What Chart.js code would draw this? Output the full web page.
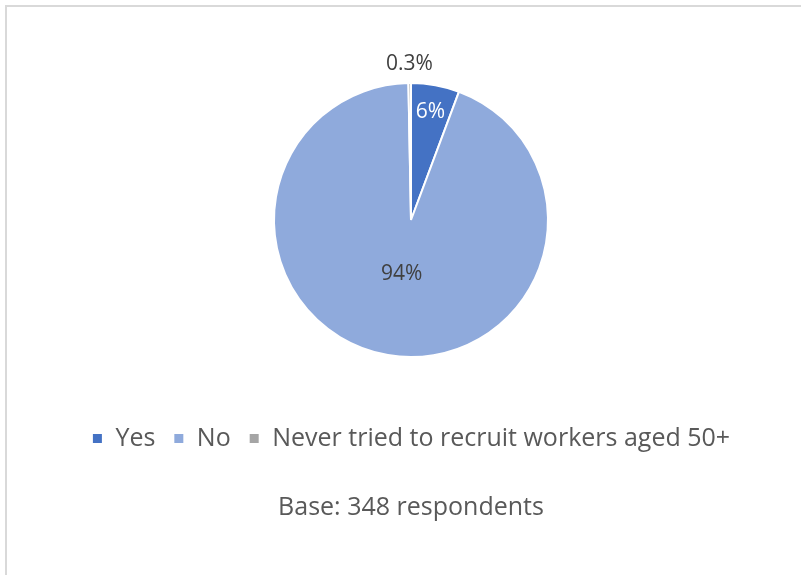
<!DOCTYPE html>
<html>
<head>
<meta charset="utf-8">
<script src="https://cdn.jsdelivr.net/npm/chart.js@4"></script>
<style>
  body { margin: 0; background: #fff; overflow: hidden; }
  #wrap { position: relative; width: 801px; height: 575px; }
  #frame { position: absolute; left: 5px; top: 5px; width: 820px; height: 600px;
           border-top: 2px solid #D9D9D9; border-left: 2px solid #D9D9D9; }
  canvas { position: absolute; left: 0; top: 0; }
</style>
</head>
<body>
<div id="wrap">
  <div id="frame"></div>
  <canvas id="myChart" width="801" height="575"></canvas>
</div>
<script>
const answers = ["Yes", "No", "Never tried to recruit workers aged 50+"];
const shares = [5.7, 94.0, 0.3];
const shareLabels = ["6%", "94%", "0.3%"];
const sliceColors = ["#4472C4", "#8FAADC", "#A5A5A5"];

const FONT = "'Open Sans', 'Liberation Sans', sans-serif";

// where each percentage sits, as a fraction of the radius
const labelRadius = [0.8, 0.4, 1.14];
const labelColor = ["#FFFFFF", "#404040", "#404040"];

const sliceLabels = {
    id: 'sliceLabels',
    afterDatasetsDraw(chart) {
        const ctx = chart.ctx;
        const arcs = chart.getDatasetMeta(0).data;
        ctx.save();
        ctx.font = "21px " + FONT;
        ctx.textAlign = 'center';
        ctx.textBaseline = 'middle';
        arcs.forEach((arc, i) => {
            const p = arc.getProps(['x', 'y', 'startAngle', 'endAngle', 'outerRadius']);
            const mid = (p.startAngle + p.endAngle) / 2;
            const r = p.outerRadius * labelRadius[i];
            ctx.fillStyle = labelColor[i];
            ctx.fillText(shareLabels[i], p.x + Math.cos(mid) * r, p.y + Math.sin(mid) * r);
        });
        ctx.restore();
    }
};

const getChart = document.getElementById('myChart').getContext('2d');
const mychart = new Chart(getChart, {
    type: 'pie',
    data: {
        labels: answers,
        datasets: [{
            data: shares,
            backgroundColor: sliceColors,
            borderColor: '#FFFFFF',
            borderWidth: 2,
            radius: 137
        }]
    },
    options: {
        responsive: false,
        animation: false,
        layout: {
            padding: { top: 32, left: 21, right: 0, bottom: 42 }
        },
        plugins: {
            legend: {
                position: 'bottom',
                labels: {
                    boxWidth: 11,
                    boxHeight: 11,
                    padding: 18,
                    color: '#595959',
                    font: { family: FONT, size: 25 }
                }
            },
            title: {
                display: true,
                position: 'bottom',
                text: 'Base: 348 respondents',
                color: '#595959',
                font: { family: FONT, size: 25, weight: 'normal' },
                padding: { top: 32, bottom: 10 }
            },
            tooltip: { enabled: false }
        }
    },
    plugins: [sliceLabels]
});
</script>
</body>
</html>
